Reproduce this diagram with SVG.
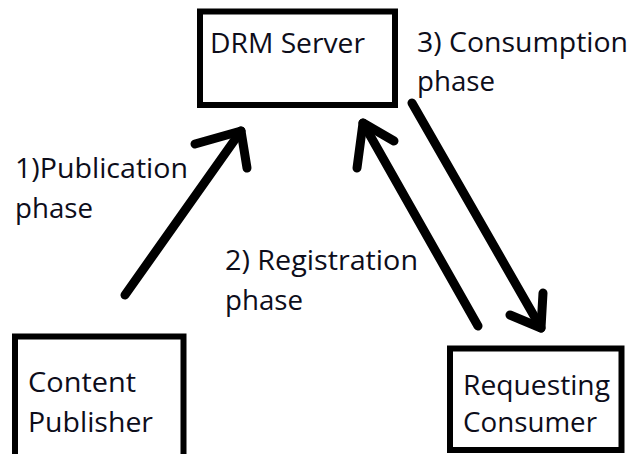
<svg xmlns="http://www.w3.org/2000/svg" width="632" height="454" viewBox="0 0 632 454">
  <style>
    .box { fill: #ffffff; stroke: #000000; stroke-width: 6; }
    .label { font-family: "Open Sans", "Liberation Sans", sans-serif; font-size: 27px; fill: #0d0d1a; }
    .stroke { fill: none; stroke: #000000; stroke-width: 9; stroke-linecap: round; stroke-linejoin: round; }
  </style>
  <rect width="632" height="454" fill="#ffffff"/>

  <g id="drm-server">
    <rect class="box" x="200" y="11.5" width="195" height="93.5"/>
    <text class="label" x="210" y="53" textLength="155" lengthAdjust="spacingAndGlyphs">DRM Server</text>
  </g>

  <g id="content-publisher">
    <rect class="box" x="15" y="336.5" width="168.5" height="130"/>
    <text class="label" x="28" y="392" textLength="108" lengthAdjust="spacingAndGlyphs">Content</text>
    <text class="label" x="28" y="432" textLength="125" lengthAdjust="spacingAndGlyphs">Publisher</text>
  </g>

  <g id="requesting-consumer">
    <rect class="box" x="450" y="348.5" width="171.5" height="101.5"/>
    <text class="label" x="463" y="395" textLength="147" lengthAdjust="spacingAndGlyphs">Requesting</text>
    <text class="label" x="463" y="432" textLength="134" lengthAdjust="spacingAndGlyphs">Consumer</text>
  </g>

  <g id="connectors">
    <!-- 1) publication: publisher up to server -->
    <line class="stroke" x1="125" y1="295" x2="241" y2="131"/>
    <polyline class="stroke" points="195,144 241,131 247,168"/>
    <!-- 2) registration: consumer up to server -->
    <line class="stroke" x1="478" y1="326" x2="363" y2="123"/>
    <polyline class="stroke" points="394,141 363,123 357,168"/>
    <!-- 3) consumption: server down to consumer -->
    <line class="stroke" x1="412" y1="103" x2="541" y2="328"/>
    <polyline class="stroke" points="510,315 541,328 543,293"/>
  </g>

  <g id="labels">
    <text class="label" x="417" y="52" textLength="211" lengthAdjust="spacingAndGlyphs">3) Consumption</text>
    <text class="label" x="417" y="91" textLength="78" lengthAdjust="spacingAndGlyphs">phase</text>
    <text class="label" x="15" y="178" textLength="173" lengthAdjust="spacingAndGlyphs">1)Publication</text>
    <text class="label" x="15" y="218" textLength="78" lengthAdjust="spacingAndGlyphs">phase</text>
    <text class="label" x="225" y="270" textLength="193" lengthAdjust="spacingAndGlyphs">2) Registration</text>
    <text class="label" x="225" y="310" textLength="78" lengthAdjust="spacingAndGlyphs">phase</text>
  </g>
</svg>
